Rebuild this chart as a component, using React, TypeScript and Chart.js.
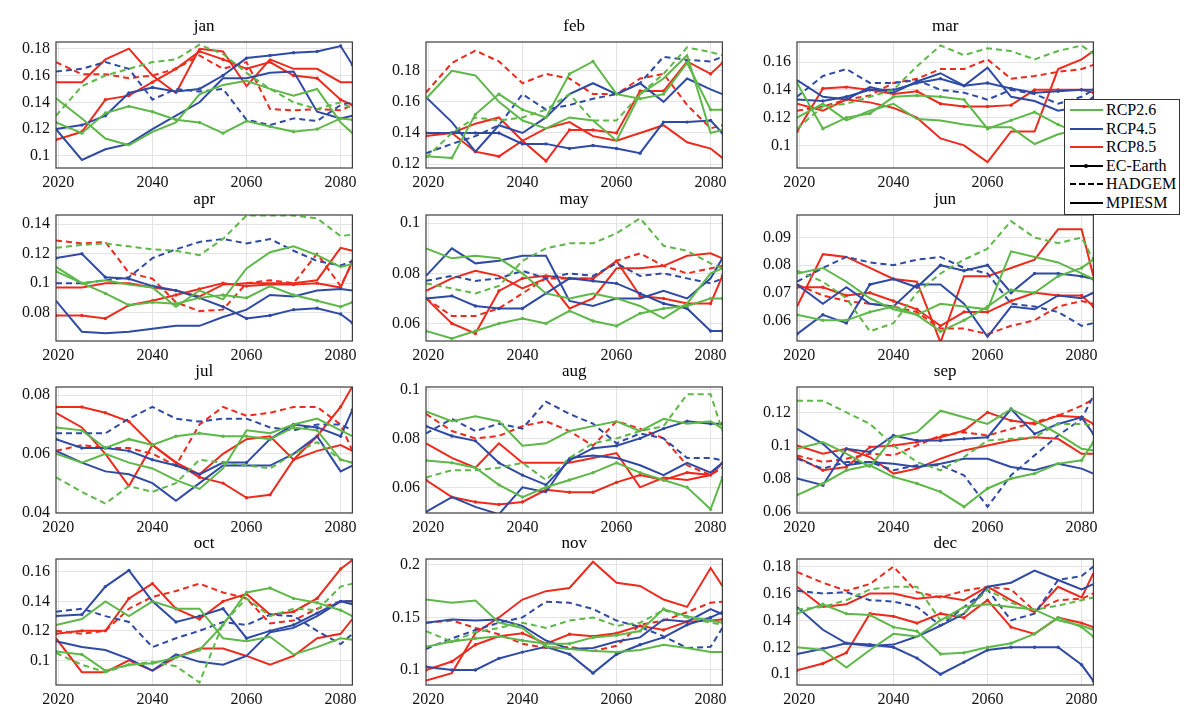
// Monthly values under three RCP scenarios and three climate models, 2020–2082.
// One Chart.js line chart per month, with an HTML legend over the March panel.

import { useEffect, useRef } from "react";
import { Chart, registerables } from "chart.js";

Chart.register(...registerables);

const years = [2019.5, 2025, 2030, 2035, 2040, 2045, 2050, 2055, 2060, 2065, 2070, 2075, 2080, 2082.5];
const xTicks = [2020, 2040, 2060, 2080];
const months = ["jan", "feb", "mar", "apr", "may", "jun", "jul", "aug", "sep", "oct", "nov", "dec"];
const scenarios = ["RCP2.6", "RCP4.5", "RCP8.5"];
const models = ["EC-Earth", "HADGEM", "MPIESM"];

// every block: [EC-Earth, HADGEM, MPIESM]
const janRcp26 = [
  [0.125, 0.117, 0.132, 0.137, 0.133, 0.127, 0.125, 0.117, 0.126, 0.122, 0.118, 0.120, 0.128, 0.127],
  [0.130, 0.152, 0.160, 0.165, 0.170, 0.172, 0.183, 0.176, 0.162, 0.150, 0.140, 0.135, 0.140, 0.135],
  [0.143, 0.128, 0.113, 0.108, 0.118, 0.125, 0.146, 0.153, 0.156, 0.150, 0.145, 0.150, 0.125, 0.117],
];
const janRcp45 = [
  [0.120, 0.123, 0.130, 0.147, 0.151, 0.148, 0.150, 0.160, 0.173, 0.175, 0.177, 0.178, 0.182, 0.168],
  [0.163, 0.165, 0.170, 0.165, 0.142, 0.150, 0.148, 0.150, 0.127, 0.123, 0.128, 0.126, 0.138, 0.140],
  [0.120, 0.097, 0.105, 0.109, 0.120, 0.130, 0.140, 0.158, 0.158, 0.162, 0.163, 0.133, 0.128, 0.130],
];
const janRcp85 = [
  [0.112, 0.118, 0.142, 0.145, 0.155, 0.165, 0.178, 0.172, 0.165, 0.170, 0.160, 0.158, 0.142, 0.138],
  [0.170, 0.161, 0.161, 0.158, 0.160, 0.165, 0.175, 0.165, 0.170, 0.135, 0.134, 0.135, 0.134, 0.138],
  [0.155, 0.155, 0.172, 0.180, 0.160, 0.147, 0.180, 0.178, 0.152, 0.172, 0.165, 0.165, 0.155, 0.155],
];

const febRcp26 = [
  [0.125, 0.124, 0.152, 0.165, 0.155, 0.150, 0.178, 0.186, 0.165, 0.162, 0.165, 0.185, 0.155, 0.155],
  [0.124, 0.140, 0.150, 0.148, 0.150, 0.155, 0.165, 0.148, 0.148, 0.165, 0.178, 0.195, 0.192, 0.190],
  [0.162, 0.180, 0.177, 0.160, 0.148, 0.143, 0.150, 0.148, 0.135, 0.165, 0.175, 0.190, 0.140, 0.142],
];
const febRcp45 = [
  [0.140, 0.140, 0.140, 0.140, 0.133, 0.133, 0.130, 0.132, 0.130, 0.127, 0.147, 0.147, 0.148, 0.140],
  [0.127, 0.133, 0.138, 0.145, 0.165, 0.155, 0.158, 0.162, 0.165, 0.172, 0.189, 0.187, 0.186, 0.189],
  [0.163, 0.147, 0.128, 0.145, 0.140, 0.150, 0.165, 0.172, 0.165, 0.172, 0.160, 0.175, 0.168, 0.165],
];
const febRcp85 = [
  [0.138, 0.140, 0.128, 0.125, 0.135, 0.122, 0.142, 0.142, 0.140, 0.167, 0.167, 0.186, 0.178, 0.185],
  [0.166, 0.185, 0.193, 0.186, 0.172, 0.178, 0.175, 0.165, 0.165, 0.175, 0.178, 0.158, 0.143, 0.145],
  [0.140, 0.140, 0.146, 0.150, 0.135, 0.143, 0.147, 0.138, 0.135, 0.140, 0.145, 0.134, 0.130, 0.124],
];

const marRcp26 = [
  [0.145, 0.112, 0.120, 0.123, 0.135, 0.136, 0.135, 0.133, 0.112, 0.118, 0.124, 0.115, 0.108, 0.108],
  [0.112, 0.128, 0.130, 0.135, 0.140, 0.157, 0.172, 0.165, 0.170, 0.168, 0.162, 0.168, 0.172, 0.166],
  [0.120, 0.130, 0.118, 0.125, 0.130, 0.119, 0.118, 0.115, 0.113, 0.113, 0.101, 0.108, 0.112, 0.112],
];
const marRcp45 = [
  [0.133, 0.132, 0.135, 0.140, 0.140, 0.145, 0.148, 0.143, 0.145, 0.141, 0.138, 0.139, 0.140, 0.140],
  [0.135, 0.150, 0.155, 0.145, 0.145, 0.147, 0.140, 0.138, 0.133, 0.140, 0.137, 0.130, 0.135, 0.140],
  [0.147, 0.135, 0.133, 0.142, 0.138, 0.146, 0.152, 0.143, 0.156, 0.135, 0.132, 0.125, 0.128, 0.135],
];
const marRcp85 = [
  [0.110, 0.141, 0.142, 0.140, 0.137, 0.139, 0.130, 0.128, 0.128, 0.129, 0.140, 0.140, 0.140, 0.138],
  [0.125, 0.128, 0.133, 0.136, 0.145, 0.148, 0.155, 0.155, 0.162, 0.148, 0.150, 0.153, 0.155, 0.158],
  [0.130, 0.125, 0.133, 0.131, 0.127, 0.120, 0.105, 0.100, 0.088, 0.110, 0.110, 0.155, 0.162, 0.168],
];

const aprRcp26 = [
  [0.108, 0.100, 0.093, 0.085, 0.087, 0.086, 0.090, 0.092, 0.090, 0.098, 0.092, 0.088, 0.084, 0.087],
  [0.124, 0.126, 0.127, 0.125, 0.123, 0.122, 0.119, 0.130, 0.146, 0.146, 0.146, 0.144, 0.132, 0.133],
  [0.111, 0.100, 0.102, 0.099, 0.097, 0.084, 0.095, 0.089, 0.110, 0.121, 0.125, 0.119, 0.111, 0.113],
];
const aprRcp45 = [
  [0.117, 0.120, 0.104, 0.103, 0.098, 0.095, 0.090, 0.084, 0.076, 0.078, 0.082, 0.083, 0.079, 0.073],
  [0.100, 0.100, 0.102, 0.104, 0.117, 0.123, 0.128, 0.130, 0.127, 0.130, 0.122, 0.115, 0.112, 0.115],
  [0.088, 0.067, 0.066, 0.067, 0.069, 0.071, 0.071, 0.077, 0.082, 0.092, 0.091, 0.095, 0.096, 0.095],
];
const aprRcp85 = [
  [0.078, 0.078, 0.076, 0.085, 0.088, 0.092, 0.096, 0.100, 0.098, 0.099, 0.099, 0.100, 0.097, 0.115],
  [0.129, 0.127, 0.128, 0.107, 0.103, 0.087, 0.081, 0.082, 0.100, 0.102, 0.100, 0.120, 0.098, 0.114],
  [0.097, 0.097, 0.100, 0.100, 0.097, 0.095, 0.091, 0.099, 0.100, 0.100, 0.100, 0.102, 0.124, 0.122],
];

const mayRcp26 = [
  [0.057, 0.054, 0.057, 0.060, 0.062, 0.060, 0.065, 0.061, 0.059, 0.064, 0.066, 0.067, 0.070, 0.070],
  [0.076, 0.074, 0.072, 0.075, 0.085, 0.090, 0.092, 0.092, 0.096, 0.102, 0.091, 0.089, 0.084, 0.082],
  [0.090, 0.086, 0.087, 0.086, 0.080, 0.072, 0.070, 0.072, 0.070, 0.067, 0.062, 0.068, 0.080, 0.082],
];
const mayRcp45 = [
  [0.070, 0.071, 0.067, 0.066, 0.066, 0.072, 0.078, 0.077, 0.076, 0.072, 0.068, 0.066, 0.057, 0.057],
  [0.077, 0.079, 0.077, 0.078, 0.081, 0.078, 0.080, 0.079, 0.084, 0.079, 0.080, 0.078, 0.076, 0.078],
  [0.079, 0.090, 0.084, 0.085, 0.087, 0.087, 0.069, 0.067, 0.070, 0.070, 0.073, 0.070, 0.078, 0.086],
];
const mayRcp85 = [
  [0.070, 0.060, 0.056, 0.073, 0.078, 0.079, 0.078, 0.078, 0.085, 0.071, 0.070, 0.068, 0.068, 0.079],
  [0.070, 0.063, 0.063, 0.066, 0.072, 0.078, 0.078, 0.078, 0.085, 0.088, 0.083, 0.080, 0.082, 0.083],
  [0.073, 0.078, 0.081, 0.079, 0.074, 0.078, 0.066, 0.070, 0.082, 0.082, 0.083, 0.087, 0.088, 0.086],
];

const junRcp26 = [
  [0.062, 0.060, 0.060, 0.063, 0.065, 0.062, 0.056, 0.060, 0.065, 0.071, 0.070, 0.076, 0.079, 0.082],
  [0.078, 0.074, 0.068, 0.056, 0.059, 0.070, 0.077, 0.082, 0.086, 0.096, 0.090, 0.088, 0.090, 0.082],
  [0.077, 0.079, 0.074, 0.068, 0.064, 0.062, 0.066, 0.065, 0.064, 0.085, 0.083, 0.081, 0.077, 0.075],
];
const junRcp45 = [
  [0.055, 0.062, 0.059, 0.073, 0.075, 0.072, 0.080, 0.078, 0.080, 0.070, 0.077, 0.077, 0.076, 0.075],
  [0.074, 0.079, 0.083, 0.081, 0.080, 0.082, 0.083, 0.079, 0.077, 0.066, 0.065, 0.063, 0.058, 0.059],
  [0.073, 0.066, 0.072, 0.066, 0.065, 0.073, 0.073, 0.066, 0.054, 0.065, 0.064, 0.069, 0.068, 0.070],
];
const junRcp85 = [
  [0.072, 0.072, 0.069, 0.070, 0.067, 0.064, 0.058, 0.063, 0.063, 0.067, 0.070, 0.069, 0.069, 0.065],
  [0.073, 0.069, 0.067, 0.066, 0.065, 0.063, 0.057, 0.057, 0.055, 0.058, 0.060, 0.065, 0.067, 0.066],
  [0.065, 0.084, 0.083, 0.079, 0.075, 0.074, 0.052, 0.076, 0.076, 0.079, 0.082, 0.093, 0.093, 0.076],
];

const julRcp26 = [
  [0.069, 0.068, 0.062, 0.065, 0.063, 0.066, 0.067, 0.066, 0.066, 0.065, 0.069, 0.068, 0.058, 0.057],
  [0.052, 0.047, 0.043, 0.049, 0.047, 0.050, 0.058, 0.057, 0.056, 0.055, 0.060, 0.064, 0.058, 0.057],
  [0.060, 0.057, 0.060, 0.057, 0.055, 0.051, 0.048, 0.055, 0.068, 0.067, 0.070, 0.072, 0.068, 0.066],
];
const julRcp45 = [
  [0.065, 0.062, 0.062, 0.061, 0.058, 0.056, 0.053, 0.057, 0.057, 0.065, 0.070, 0.069, 0.066, 0.075],
  [0.067, 0.067, 0.067, 0.072, 0.076, 0.072, 0.071, 0.072, 0.072, 0.069, 0.068, 0.070, 0.070, 0.068],
  [0.061, 0.057, 0.054, 0.053, 0.050, 0.044, 0.050, 0.056, 0.056, 0.056, 0.060, 0.066, 0.054, 0.056],
];
const julRcp85 = [
  [0.076, 0.076, 0.074, 0.071, 0.063, 0.057, 0.052, 0.050, 0.045, 0.046, 0.058, 0.066, 0.076, 0.083],
  [0.061, 0.063, 0.062, 0.062, 0.060, 0.056, 0.070, 0.076, 0.073, 0.074, 0.076, 0.076, 0.070, 0.061],
  [0.074, 0.069, 0.060, 0.049, 0.063, 0.057, 0.053, 0.060, 0.065, 0.066, 0.058, 0.061, 0.063, 0.061],
];

const augRcp26 = [
  [0.071, 0.070, 0.068, 0.061, 0.056, 0.060, 0.063, 0.066, 0.070, 0.066, 0.063, 0.060, 0.051, 0.064],
  [0.064, 0.067, 0.067, 0.068, 0.070, 0.063, 0.072, 0.078, 0.080, 0.083, 0.085, 0.098, 0.098, 0.083],
  [0.091, 0.087, 0.089, 0.087, 0.077, 0.078, 0.083, 0.085, 0.087, 0.083, 0.088, 0.086, 0.087, 0.084],
];
const augRcp45 = [
  [0.085, 0.081, 0.079, 0.070, 0.065, 0.061, 0.071, 0.076, 0.077, 0.080, 0.084, 0.087, 0.086, 0.086],
  [0.082, 0.088, 0.083, 0.086, 0.084, 0.095, 0.090, 0.086, 0.078, 0.082, 0.080, 0.072, 0.072, 0.071],
  [0.050, 0.056, 0.052, 0.049, 0.060, 0.058, 0.072, 0.073, 0.072, 0.069, 0.065, 0.070, 0.066, 0.070],
];
const augRcp85 = [
  [0.063, 0.056, 0.054, 0.053, 0.054, 0.059, 0.058, 0.058, 0.062, 0.065, 0.063, 0.066, 0.065, 0.070],
  [0.090, 0.083, 0.080, 0.081, 0.085, 0.087, 0.083, 0.077, 0.087, 0.084, 0.080, 0.069, 0.065, 0.068],
  [0.078, 0.072, 0.068, 0.078, 0.070, 0.070, 0.070, 0.072, 0.074, 0.060, 0.064, 0.063, 0.065, 0.070],
];

const sepRcp26 = [
  [0.070, 0.077, 0.085, 0.088, 0.081, 0.077, 0.072, 0.063, 0.074, 0.080, 0.083, 0.089, 0.091, 0.102],
  [0.127, 0.127, 0.120, 0.113, 0.100, 0.090, 0.085, 0.093, 0.103, 0.104, 0.105, 0.113, 0.113, 0.112],
  [0.098, 0.102, 0.095, 0.087, 0.105, 0.108, 0.121, 0.117, 0.113, 0.122, 0.115, 0.107, 0.098, 0.097],
];
const sepRcp45 = [
  [0.080, 0.076, 0.098, 0.096, 0.106, 0.103, 0.103, 0.104, 0.105, 0.122, 0.107, 0.113, 0.117, 0.107],
  [0.092, 0.086, 0.090, 0.090, 0.085, 0.088, 0.088, 0.082, 0.063, 0.082, 0.094, 0.106, 0.116, 0.130],
  [0.110, 0.101, 0.088, 0.090, 0.089, 0.087, 0.089, 0.092, 0.092, 0.087, 0.085, 0.089, 0.086, 0.083],
];
const sepRcp85 = [
  [0.093, 0.085, 0.087, 0.099, 0.100, 0.102, 0.105, 0.109, 0.120, 0.115, 0.113, 0.118, 0.117, 0.113],
  [0.094, 0.090, 0.092, 0.095, 0.094, 0.100, 0.106, 0.108, 0.106, 0.110, 0.114, 0.118, 0.124, 0.128],
  [0.100, 0.095, 0.098, 0.093, 0.083, 0.086, 0.092, 0.097, 0.100, 0.103, 0.105, 0.104, 0.095, 0.095],
];

const octRcp26 = [
  [0.106, 0.104, 0.093, 0.097, 0.098, 0.102, 0.107, 0.124, 0.146, 0.149, 0.142, 0.139, 0.134, 0.130],
  [0.105, 0.097, 0.092, 0.097, 0.099, 0.096, 0.085, 0.125, 0.142, 0.130, 0.135, 0.134, 0.150, 0.152],
  [0.124, 0.128, 0.140, 0.130, 0.140, 0.135, 0.135, 0.115, 0.113, 0.116, 0.104, 0.109, 0.115, 0.114],
];
const octRcp45 = [
  [0.130, 0.131, 0.150, 0.161, 0.140, 0.126, 0.130, 0.135, 0.115, 0.120, 0.124, 0.132, 0.140, 0.140],
  [0.133, 0.135, 0.130, 0.126, 0.109, 0.115, 0.120, 0.126, 0.124, 0.131, 0.130, 0.120, 0.111, 0.118],
  [0.113, 0.109, 0.107, 0.101, 0.093, 0.104, 0.099, 0.097, 0.103, 0.119, 0.122, 0.130, 0.140, 0.138],
];
const octRcp85 = [
  [0.118, 0.120, 0.120, 0.142, 0.152, 0.135, 0.128, 0.140, 0.145, 0.131, 0.133, 0.142, 0.162, 0.168],
  [0.120, 0.118, 0.120, 0.135, 0.143, 0.147, 0.152, 0.146, 0.142, 0.125, 0.127, 0.135, 0.140, 0.140],
  [0.115, 0.092, 0.092, 0.100, 0.093, 0.102, 0.108, 0.108, 0.103, 0.097, 0.103, 0.115, 0.118, 0.128],
];

const novRcp26 = [
  [0.122, 0.127, 0.130, 0.132, 0.128, 0.125, 0.125, 0.131, 0.133, 0.137, 0.158, 0.151, 0.147, 0.145],
  [0.137, 0.127, 0.136, 0.140, 0.145, 0.140, 0.147, 0.150, 0.142, 0.145, 0.157, 0.150, 0.145, 0.143],
  [0.167, 0.164, 0.166, 0.145, 0.140, 0.122, 0.120, 0.118, 0.117, 0.119, 0.124, 0.121, 0.117, 0.117],
];
const novRcp45 = [
  [0.103, 0.100, 0.100, 0.111, 0.117, 0.122, 0.115, 0.097, 0.115, 0.124, 0.131, 0.143, 0.150, 0.155],
  [0.120, 0.130, 0.138, 0.145, 0.150, 0.165, 0.164, 0.158, 0.147, 0.141, 0.132, 0.121, 0.122, 0.140],
  [0.145, 0.148, 0.147, 0.148, 0.142, 0.128, 0.120, 0.121, 0.127, 0.131, 0.148, 0.146, 0.158, 0.153],
];
const novRcp85 = [
  [0.100, 0.108, 0.124, 0.132, 0.135, 0.125, 0.134, 0.132, 0.135, 0.142, 0.138, 0.146, 0.147, 0.148],
  [0.145, 0.147, 0.140, 0.134, 0.125, 0.121, 0.122, 0.118, 0.123, 0.143, 0.147, 0.155, 0.164, 0.165],
  [0.090, 0.097, 0.135, 0.150, 0.167, 0.175, 0.178, 0.203, 0.183, 0.180, 0.167, 0.160, 0.197, 0.180],
];

const decRcp26 = [
  [0.145, 0.152, 0.145, 0.144, 0.135, 0.132, 0.115, 0.116, 0.120, 0.123, 0.130, 0.142, 0.135, 0.128],
  [0.148, 0.150, 0.155, 0.163, 0.165, 0.165, 0.140, 0.145, 0.163, 0.153, 0.148, 0.151, 0.155, 0.157],
  [0.120, 0.118, 0.105, 0.118, 0.130, 0.128, 0.140, 0.150, 0.152, 0.150, 0.148, 0.140, 0.136, 0.133],
];
const decRcp45 = [
  [0.115, 0.119, 0.123, 0.122, 0.120, 0.112, 0.100, 0.109, 0.118, 0.120, 0.120, 0.120, 0.107, 0.095],
  [0.162, 0.160, 0.161, 0.155, 0.154, 0.150, 0.136, 0.150, 0.163, 0.140, 0.145, 0.170, 0.173, 0.180],
  [0.150, 0.133, 0.123, 0.121, 0.122, 0.128, 0.136, 0.145, 0.165, 0.168, 0.177, 0.170, 0.163, 0.167],
];
const decRcp85 = [
  [0.103, 0.108, 0.116, 0.145, 0.143, 0.138, 0.145, 0.142, 0.155, 0.135, 0.130, 0.142, 0.138, 0.135],
  [0.176, 0.168, 0.162, 0.167, 0.180, 0.161, 0.157, 0.162, 0.165, 0.163, 0.147, 0.155, 0.156, 0.160],
  [0.165, 0.150, 0.152, 0.160, 0.160, 0.156, 0.158, 0.155, 0.165, 0.155, 0.146, 0.165, 0.157, 0.175],
];

const monthSeries = [
  [janRcp26, janRcp45, janRcp85], [febRcp26, febRcp45, febRcp85], [marRcp26, marRcp45, marRcp85],
  [aprRcp26, aprRcp45, aprRcp85], [mayRcp26, mayRcp45, mayRcp85], [junRcp26, junRcp45, junRcp85],
  [julRcp26, julRcp45, julRcp85], [augRcp26, augRcp45, augRcp85], [sepRcp26, sepRcp45, sepRcp85],
  [octRcp26, octRcp45, octRcp85], [novRcp26, novRcp45, novRcp85], [decRcp26, decRcp45, decRcp85],
];

const yTicks = [
  [0.1, 0.12, 0.14, 0.16, 0.18], [0.12, 0.14, 0.16, 0.18], [0.1, 0.12, 0.14, 0.16],
  [0.08, 0.1, 0.12, 0.14], [0.06, 0.08, 0.1], [0.06, 0.07, 0.08, 0.09],
  [0.04, 0.06, 0.08], [0.06, 0.08, 0.1], [0.06, 0.08, 0.1, 0.12],
  [0.1, 0.12, 0.14, 0.16], [0.1, 0.15, 0.2], [0.1, 0.12, 0.14, 0.16, 0.18],
];
const yRanges = [
  [0.091, 0.185], [0.1175, 0.1985], [0.0837, 0.1745],
  [0.0607, 0.1463], [0.053, 0.1033], [0.0525, 0.0982],
  [0.0398, 0.0828], [0.0495, 0.101], [0.0592, 0.1353],
  [0.0833, 0.1687], [0.0857, 0.2056], [0.092, 0.1856],
];

const COLORS = ["#5db848", "#2f4aa5", "#ee2a1c"];
const FONT = "'Liberation Serif', 'Times New Roman', serif";
const TEXT = "#111";
const COL_LEFT = [56, 426, 797];
const ROW_TOP = [42, 215, 387, 559];
const PLOT_W = 298;
const PLOT_H = 126;
const PAD_L = 52;
const PAD_T = 32;
const PAD_B = 26;
const PAD_R = 8;

const framePlugin = {
  id: "frame",
  afterDraw(chart: Chart) {
    const { ctx, chartArea: a } = chart;
    ctx.save();
    ctx.strokeStyle = "#3c3c3c";
    ctx.lineWidth = 1.2;
    ctx.strokeRect(a.left, a.top, a.right - a.left, a.bottom - a.top);
    ctx.restore();
  },
};

function Panel({ index }: { index: number }) {
  const ref = useRef<HTMLCanvasElement>(null);

  useEffect(() => {
    if (!ref.current) return;
    const datasets: any[] = [];
    monthSeries[index].forEach((group, s) =>
      group.forEach((values, m) => {
        datasets.push({
          label: `${scenarios[s]} ${models[m]}`,
          data: years.map((x, i) => ({ x, y: values[i] })),
          borderColor: COLORS[s],
          backgroundColor: COLORS[s],
          borderWidth: 2,
          borderDash: m === 1 ? [6, 4] : [],
          pointRadius: m === 0 ? 1.7 : 0,
          pointBorderWidth: 0,
          pointHoverRadius: 0,
          tension: 0,
        });
      })
    );

    const chart = new Chart(ref.current, {
      type: "line",
      data: { datasets },
      plugins: [framePlugin],
      options: {
        responsive: false,
        animation: false,
        layout: { padding: { left: 0, right: PAD_R, top: 0, bottom: 0 } },
        scales: {
          x: {
            type: "linear",
            min: 2019.5,
            max: 2082.5,
            afterBuildTicks: (s: any) => { s.ticks = xTicks.map((value) => ({ value })); },
            afterFit: (s: any) => { s.height = PAD_B; },
            ticks: {
              callback: (v: any) => String(v),
              font: { family: FONT, size: 16 },
              color: TEXT,
              padding: 5,
              maxRotation: 0,
              autoSkip: false,
            },
            grid: { color: "#e3e3e3", drawTicks: false },
            border: { display: false },
          },
          y: {
            type: "linear",
            min: yRanges[index][0],
            max: yRanges[index][1],
            afterBuildTicks: (s: any) => { s.ticks = yTicks[index].map((value) => ({ value })); },
            afterFit: (s: any) => { s.width = PAD_L; },
            ticks: {
              callback: (v: any) => String(Number(Number(v).toFixed(3))),
              font: { family: FONT, size: 16 },
              color: TEXT,
              padding: 6,
              autoSkip: false,
            },
            grid: { color: "#e3e3e3", drawTicks: false },
            border: { display: false },
          },
        },
        plugins: {
          legend: { display: false },
          tooltip: { enabled: false },
          title: {
            display: true,
            text: months[index],
            fullSize: false,
            color: "#000",
            font: { family: FONT, size: 17, weight: "normal", lineHeight: 1 },
            padding: { top: 8, bottom: 7 },
          },
        },
      } as any,
    });
    return () => chart.destroy();
  }, [index]);

  const col = index % 3;
  const row = Math.floor(index / 3);
  return (
    <canvas
      ref={ref}
      width={PLOT_W + PAD_L + PAD_R}
      height={PLOT_H + PAD_T + PAD_B}
      style={{ position: "absolute", left: COL_LEFT[col] - PAD_L, top: ROW_TOP[row] - PAD_T }}
    />
  );
}

function Legend() {
  const rows = [
    ...scenarios.map((label, i) => ({ label, color: COLORS[i], dash: false, dot: false })),
    ...models.map((label, i) => ({ label, color: "#000", dash: i === 1, dot: i === 0 })),
  ];
  return (
    <div
      style={{
        position: "absolute", left: 1064, top: 99, width: 116, height: 116, boxSizing: "border-box",
        border: "1px solid #333", background: "#fff", zIndex: 5, fontFamily: FONT, fontSize: 16, color: "#000",
      }}
    >
      {rows.map((r, i) => (
        <div key={r.label} style={{ position: "absolute", left: 0, top: 1 + i * 18.6, height: 18, width: "100%" }}>
          <div
            style={{
              position: "absolute", left: 5, top: 8, width: 33, height: 0,
              borderTop: `2.5px ${r.dash ? "dashed" : "solid"} ${r.color}`,
            }}
          />
          {r.dot && (
            <div style={{ position: "absolute", left: 19, top: 7.5, width: 4, height: 4, borderRadius: 2, background: "#000" }} />
          )}
          <span style={{ position: "absolute", left: 41, top: 0, lineHeight: "18px", whiteSpace: "nowrap" }}>{r.label}</span>
        </div>
      ))}
    </div>
  );
}

export default function App() {
  return (
    <div style={{ position: "absolute", left: 0, top: 0, width: 1200, height: 725, background: "#fff" }}>
      {months.map((m, i) => <Panel key={m} index={i} />)}
      <Legend />
    </div>
  );
}
